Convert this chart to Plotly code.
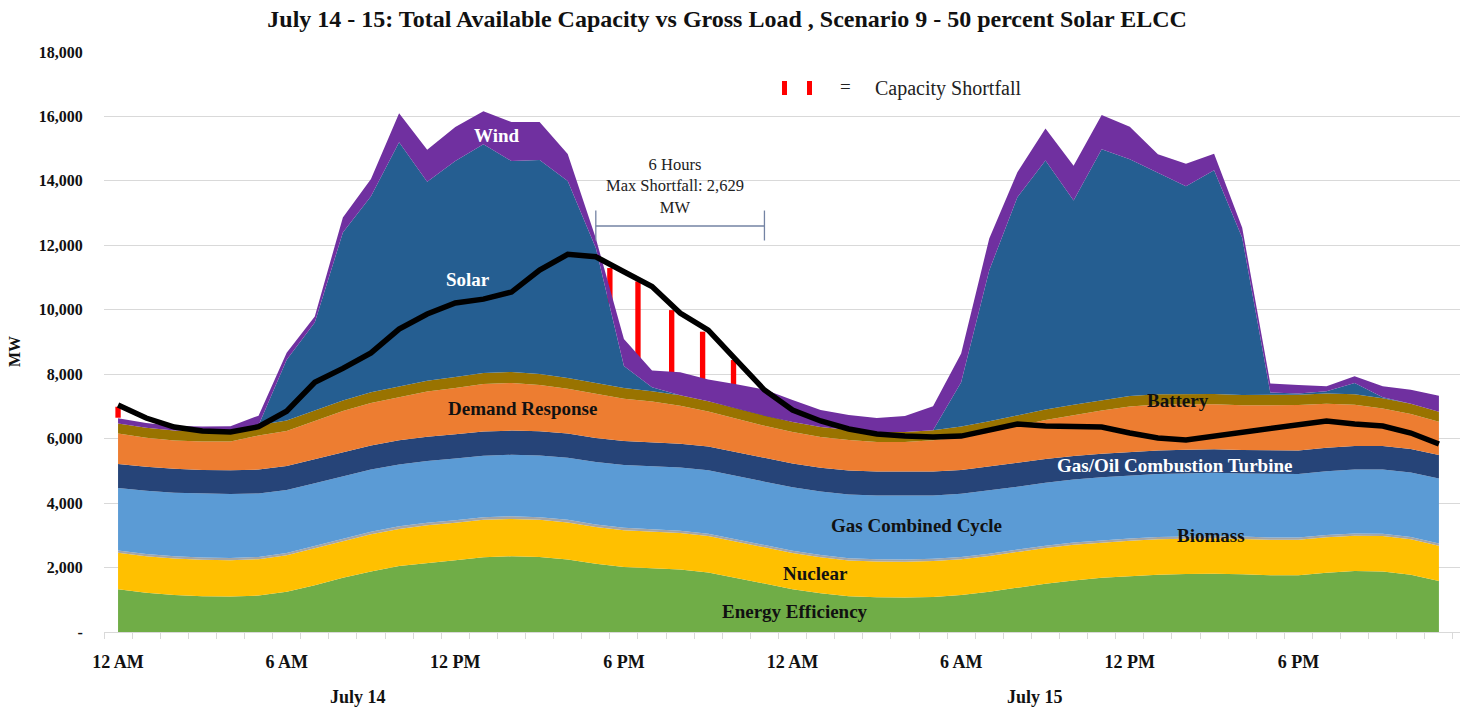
import plotly.graph_objects as go

# Hour index for July 14 (0-23) and July 15 (24-47)
hours = list(range(48))

# Available capacity by resource, MW (stacked bottom to top)
energy_efficiency = [1330, 1220, 1150, 1110, 1100, 1130, 1250, 1450, 1680, 1880, 2050, 2150,
                     2230, 2320, 2350, 2330, 2250, 2120, 2020, 1980, 1940, 1850, 1680, 1500,
                     1330, 1200, 1110, 1080, 1070, 1090, 1150, 1250, 1380, 1500, 1600, 1680,
                     1730, 1780, 1800, 1810, 1790, 1760, 1760, 1840, 1890, 1880, 1780, 1580]
nuclear = [1130, 1130, 1130, 1130, 1130, 1130, 1130, 1140, 1140, 1150, 1150, 1160,
           1160, 1160, 1160, 1150, 1150, 1140, 1140, 1140, 1130, 1130, 1130, 1130,
           1120, 1120, 1110, 1110, 1110, 1110, 1110, 1110, 1110, 1110, 1110, 1100,
           1100, 1100, 1100, 1100, 1100, 1100, 1100, 1100, 1100, 1100, 1100, 1100]
biomass = [70, 70, 70, 70, 70, 70, 70, 75, 75, 80, 80, 80,
           80, 80, 80, 80, 80, 75, 75, 75, 75, 70, 70, 70,
           70, 70, 70, 70, 70, 70, 70, 70, 70, 70, 70, 70,
           70, 70, 70, 70, 70, 70, 70, 70, 70, 70, 70, 70]
gas_combined_cycle = [1940, 1960, 1970, 1980, 1980, 1970, 1960, 1950, 1940, 1930, 1920, 1920,
                      1915, 1910, 1910, 1920, 1930, 1940, 1950, 1950, 1960, 1970, 1970, 1970,
                      1970, 1970, 1980, 1980, 1980, 1970, 1960, 1960, 1950, 1950, 1950, 1950,
                      1950, 1950, 1950, 1960, 1960, 1970, 1970, 1980, 1980, 1990, 2000, 2010]
gas_oil_ct = [745, 745, 745, 740, 740, 740, 740, 740, 745, 745, 750, 750,
              750, 750, 750, 750, 750, 745, 745, 745, 740, 740, 740, 740,
              740, 740, 740, 740, 740, 740, 740, 740, 740, 740, 735, 735,
              735, 735, 735, 735, 730, 730, 730, 730, 730, 730, 730, 730]
demand_response = [945, 900, 880, 885, 895, 1060, 1090, 1200, 1280, 1325, 1340, 1400,
                   1440, 1475, 1480, 1435, 1390, 1370, 1310, 1260, 1175, 1080, 1030, 990,
                   975, 950, 950, 915, 925, 970, 1030, 1090, 1145, 1210, 1265, 1340,
                   1415, 1425, 1405, 1395, 1385, 1415, 1415, 1365, 1285, 1170, 1085, 1035]
battery = [310, 310, 310, 310, 310, 315, 320, 320, 325, 330, 335, 340,
           340, 340, 340, 340, 335, 330, 330, 325, 325, 320, 320, 315,
           310, 310, 310, 310, 310, 315, 315, 320, 320, 325, 325, 325,
           325, 320, 320, 320, 320, 320, 320, 320, 320, 315, 315, 310]
solar = [0, 0, 0, 0, 0, 0, 1890, 2730, 5210, 6085, 7575, 6170,
         6705, 7105, 6545, 6640, 6115, 4200, 685, 120, 0, 0, 0, 0,
         0, 0, 0, 0, 0, 0, 1375, 4685, 6775, 7725, 6335, 7780,
         7345, 6870, 6455, 6940, 4880, 70, 40, 65, 350, 30, 0, 0]
wind = [165, 150, 140, 150, 160, 300, 220, 185, 470, 530, 900, 995,
        1055, 1025, 1210, 1180, 835, 300, 835, 521, 715, 680, 745, 810,
        685, 530, 465, 435, 495, 740, 895, 990, 775, 995, 1080, 1065,
        1010, 580, 695, 510, 310, 280, 260, 155, 210, 345, 435, 500]

# Gross load, MW
gross_load = [7045, 6640, 6360, 6240, 6210, 6370, 6850, 7750, 8180, 8660, 9400, 9870,
              10210, 10330, 10550, 11230, 11720, 11645, 11180, 10720, 9900, 9370, 8440, 7510,
              6890, 6550, 6300, 6145, 6080, 6050, 6080, 6270, 6455, 6390, 6390, 6360,
              6175, 6020, 5960, 6080, 6175, 6330, 6455, 6550, 6455, 6390, 6175, 5835]

# Capacity shortfall markers: hour position, load level (MW) and shortfall (MW)
shortfall_hour = [0, 17.5, 18.5, 19.7, 20.8, 21.9]
shortfall_load = [6990, 11295, 10880, 9990, 9320, 8440]
shortfall_mw = [340, 1085, 2629, 2015, 1550, 775]
shortfall_window = [17, 23]

# Axis labels
tick_hours = [0, 6, 12, 18, 24, 30, 36, 42]
tick_text = ["12 AM", "6 AM", "12 PM", "6 PM", "12 AM", "6 AM", "12 PM", "6 PM"]
y_ticks = [0, 2000, 4000, 6000, 8000, 10000, 12000, 14000, 16000, 18000]
y_tick_text = ["-", "2,000", "4,000", "6,000", "8,000", "10,000", "12,000",
               "14,000", "16,000", "18,000"]

SERIF = "Liberation Serif"

layers = [
    ("Energy Efficiency", energy_efficiency, "#70AD47"),
    ("Nuclear", nuclear, "#FFC000"),
    ("Biomass", biomass, "#A5A5A5"),
    ("Gas Combined Cycle", gas_combined_cycle, "#5B9BD5"),
    ("Gas/Oil Combustion Turbine", gas_oil_ct, "#264478"),
    ("Demand Response", demand_response, "#ED7D31"),
    ("Battery", battery, "#997300"),
    ("Solar", solar, "#255E91"),
    ("Wind", wind, "#7030A0"),
]

fig = go.Figure()
for name, vals, color in layers:
    fig.add_trace(go.Scatter(
        x=hours, y=vals, name=name, mode="lines", stackgroup="capacity",
        line=dict(width=0, color=color), fillcolor=color, showlegend=False,
    ))

# Shortfall bars between available capacity and load
fig.add_trace(go.Bar(
    x=shortfall_hour,
    y=shortfall_mw,
    base=[top - mw for top, mw in zip(shortfall_load, shortfall_mw)],
    width=0.19, marker=dict(color="#FF0000", line=dict(width=0)),
    showlegend=False,
))

fig.add_trace(go.Scatter(
    x=hours, y=gross_load, name="Gross Load", mode="lines",
    line=dict(color="#000000", width=5.5), showlegend=False,
))

# Plot-area geometry in pixels
L, R, T, B = 104, 1460, 52, 632
W, H = 1463, 713


def px(xp):
    return (xp - L) / (R - L)


def py(yp):
    return (B - yp) / (B - T)


annotations = []


def label(text, x, y, color="#111111", size=19, bold=True):
    annotations.append(dict(
        x=x, y=y, xref="x", yref="y", text=f"<b>{text}</b>" if bold else text,
        xanchor="center", yanchor="middle",
        showarrow=False, font=dict(family=SERIF, size=size, color=color),
    ))


label("Wind", 13.5, 15420, color="#FFFFFF")
label("Solar", 12.45, 10955, color="#FFFFFF")
label("Demand Response", 14.4, 6950)
label("Battery", 37.7, 7200)
label("Gas/Oil Combustion Turbine", 37.6, 5180, color="#FFFFFF")
label("Gas Combined Cycle", 28.4, 3320)
label("Biomass", 38.9, 3010)
label("Nuclear", 24.8, 1830)
label("Energy Efficiency", 24.1, 650)

# Shortfall window annotation
max_shortfall = max(shortfall_mw)
annotations.append(dict(
    x=sum(shortfall_window) / 2 - 0.2, y=13850, xref="x", yref="y",
    xanchor="center", yanchor="middle",
    text=f"6 Hours<br>Max Shortfall: {max_shortfall:,}<br>MW",
    showarrow=False, font=dict(family=SERIF, size=16.5, color="#222222"),
))


def paper_text(text, xp, yp, size, color="#111111", xanchor="center", angle=0):
    annotations.append(dict(
        x=px(xp), y=py(yp), xref="paper", yref="paper", text=text,
        xanchor=xanchor, yanchor="middle", textangle=angle, showarrow=False,
        font=dict(family=SERIF, size=size, color=color),
    ))


# Day labels, axis title and legend text
paper_text("<b>July 14</b>", 358, 697, 18)
paper_text("<b>July 15</b>", 1035, 697, 18)
paper_text("<b>MW</b>", 15, 352, 16, angle=-90)
paper_text("=", 845, 87, 19, color="#222222")
paper_text("Capacity Shortfall", 873, 88, 20, color="#222222", xanchor="left")

shapes = [
    # legend glyphs
    dict(type="rect", xref="paper", yref="paper", x0=px(782), x1=px(787), y0=py(95), y1=py(81),
         fillcolor="#FF0000", line=dict(width=0)),
    dict(type="rect", xref="paper", yref="paper", x0=px(807), x1=px(812), y0=py(95), y1=py(81),
         fillcolor="#FF0000", line=dict(width=0)),
    # shortfall window bracket
    dict(type="line", xref="x", yref="y", x0=shortfall_window[0], x1=shortfall_window[1],
         y0=12600, y1=12600, line=dict(color="#7383A3", width=1.3)),
    dict(type="line", xref="x", yref="y", x0=shortfall_window[0], x1=shortfall_window[0],
         y0=12150, y1=13080, line=dict(color="#7383A3", width=1.3)),
    dict(type="line", xref="x", yref="y", x0=shortfall_window[1], x1=shortfall_window[1],
         y0=12150, y1=13080, line=dict(color="#7383A3", width=1.3)),
]

fig.update_layout(
    width=W, height=H,
    margin=dict(l=L, r=W - R, t=T, b=H - B, pad=0),
    paper_bgcolor="#FFFFFF", plot_bgcolor="#FFFFFF",
    title=dict(
        text="<b>July 14 - 15: Total Available Capacity vs Gross Load , Scenario 9 - 50 percent Solar ELCC</b>",
        x=0.497, xanchor="center", y=1 - 19 / H, yanchor="middle",
        font=dict(family=SERIF, size=24, color="#111111"),
    ),
    barmode="overlay",
    showlegend=False,
    annotations=annotations,
    shapes=shapes,
    xaxis=dict(
        range=[-0.5, 47.75], tickmode="array", tickvals=tick_hours,
        ticktext=[f"<b>{t}</b>" for t in tick_text],
        ticks="outside", ticklen=13, tickcolor="rgba(0,0,0,0)",
        tickfont=dict(family=SERIF, size=18, color="#111111"),
        showgrid=False, zeroline=False, showline=True, linecolor="#D9D9D9", linewidth=1,
        minor=dict(tick0=-0.5, dtick=1, ticks="outside", ticklen=6, tickcolor="#D9D9D9",
                   tickwidth=1, showgrid=False),
        fixedrange=True,
    ),
    yaxis=dict(
        range=[0, 18000], tickmode="array", tickvals=y_ticks,
        ticktext=[f"<b>{t}</b>" for t in y_tick_text],
        ticks="outside", ticklen=17, tickcolor="rgba(0,0,0,0)",
        tickfont=dict(family=SERIF, size=16, color="#111111"),
        showgrid=True, gridcolor="#D9D9D9", gridwidth=1, zeroline=False, showline=False,
        fixedrange=True,
    ),
)

fig.write_html("out.html")
